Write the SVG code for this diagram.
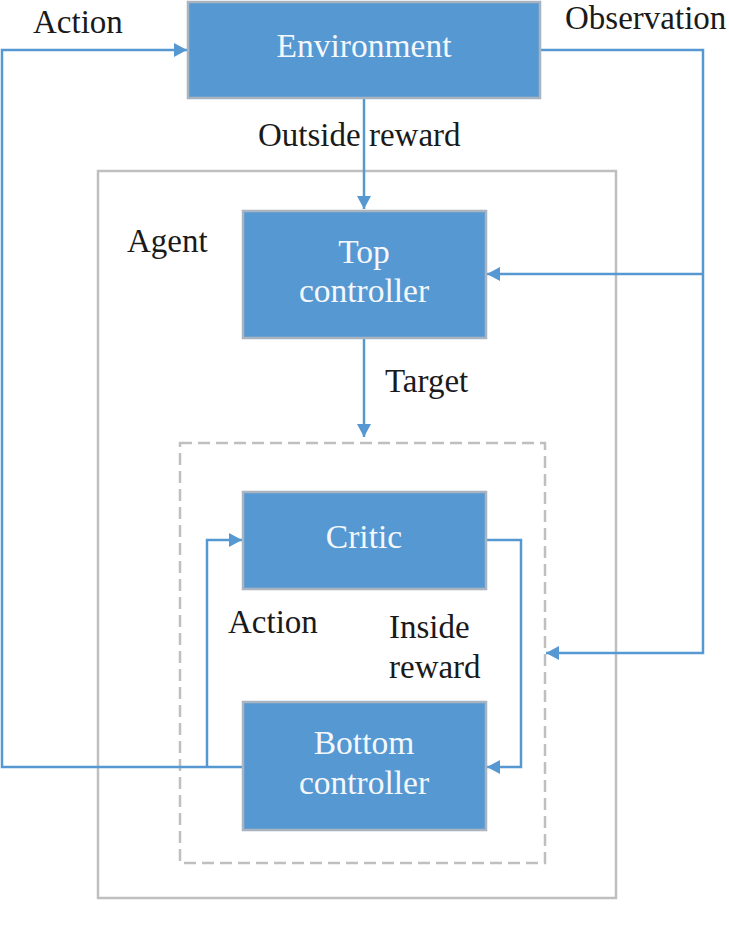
<svg xmlns="http://www.w3.org/2000/svg" width="729" height="930" viewBox="0 0 729 930">
<style>
.node{fill:#5698D2;stroke:#A9B4C0;stroke-width:2.5}
.ntxt{font-family:"Liberation Serif",serif;font-size:33.5px;fill:#F4F8FC;text-anchor:middle}
.lbl{font-family:"Liberation Serif",serif;font-size:33px;fill:#1A1A1A}
.conn{fill:none;stroke:#5698D2;stroke-width:2.5}
.box{fill:none;stroke:#BFBFBF;stroke-width:2.5}
.dash{fill:none;stroke:#BFBFBF;stroke-width:2.5;stroke-dasharray:12 6}
</style>
<defs>
<marker id="arr" markerUnits="userSpaceOnUse" markerWidth="14" markerHeight="14" refX="13" refY="7" orient="auto">
<path d="M0,0 L13,7 L0,14 z" fill="#5698D2"/>
</marker>
</defs>
<rect width="729" height="930" fill="#FFFFFF"/>
<g id="agent">
<rect class="box" x="98" y="171" width="518" height="727"/>
<text class="lbl" x="127" y="252">Agent</text>
</g>
<g id="inner">
<rect class="dash" x="180" y="443" width="365" height="420"/>
</g>
<g id="connectors">
<polyline class="conn" points="243,767 2,767 2,50 187,50" marker-end="url(#arr)"/>
<polyline class="conn" points="207,767 207,540 242,540" marker-end="url(#arr)"/>
<polyline class="conn" points="541,50 703,50 703,653 546,653" marker-end="url(#arr)"/>
<polyline class="conn" points="703,274 487,274" marker-end="url(#arr)"/>
<polyline class="conn" points="364,98 364,209" marker-end="url(#arr)"/>
<polyline class="conn" points="364,338 364,437" marker-end="url(#arr)"/>
<polyline class="conn" points="486,540 521,540 521,767 487,767" marker-end="url(#arr)"/>
</g>
<g id="environment">
<rect class="node" x="188" y="2" width="352" height="96"/>
<text class="ntxt" x="364" y="57">Environment</text>
</g>
<g id="top-controller">
<rect class="node" x="243" y="211" width="243" height="127"/>
<text class="ntxt" x="364" y="263">Top</text>
<text class="ntxt" x="364" y="302">controller</text>
</g>
<g id="critic">
<rect class="node" x="243" y="492" width="243" height="97"/>
<text class="ntxt" x="364" y="548">Critic</text>
</g>
<g id="bottom-controller">
<rect class="node" x="243" y="702" width="243" height="128"/>
<text class="ntxt" x="364" y="754">Bottom</text>
<text class="ntxt" x="364" y="794">controller</text>
</g>
<g id="labels">
<text class="lbl" x="33" y="33">Action</text>
<text class="lbl" x="565" y="29">Observation</text>
<text class="lbl" x="258" y="146">Outside reward</text>
<text class="lbl" x="385" y="392">Target</text>
<text class="lbl" x="228" y="633">Action</text>
<text class="lbl" x="389" y="638">Inside</text>
<text class="lbl" x="389" y="678">reward</text>
</g>
</svg>
